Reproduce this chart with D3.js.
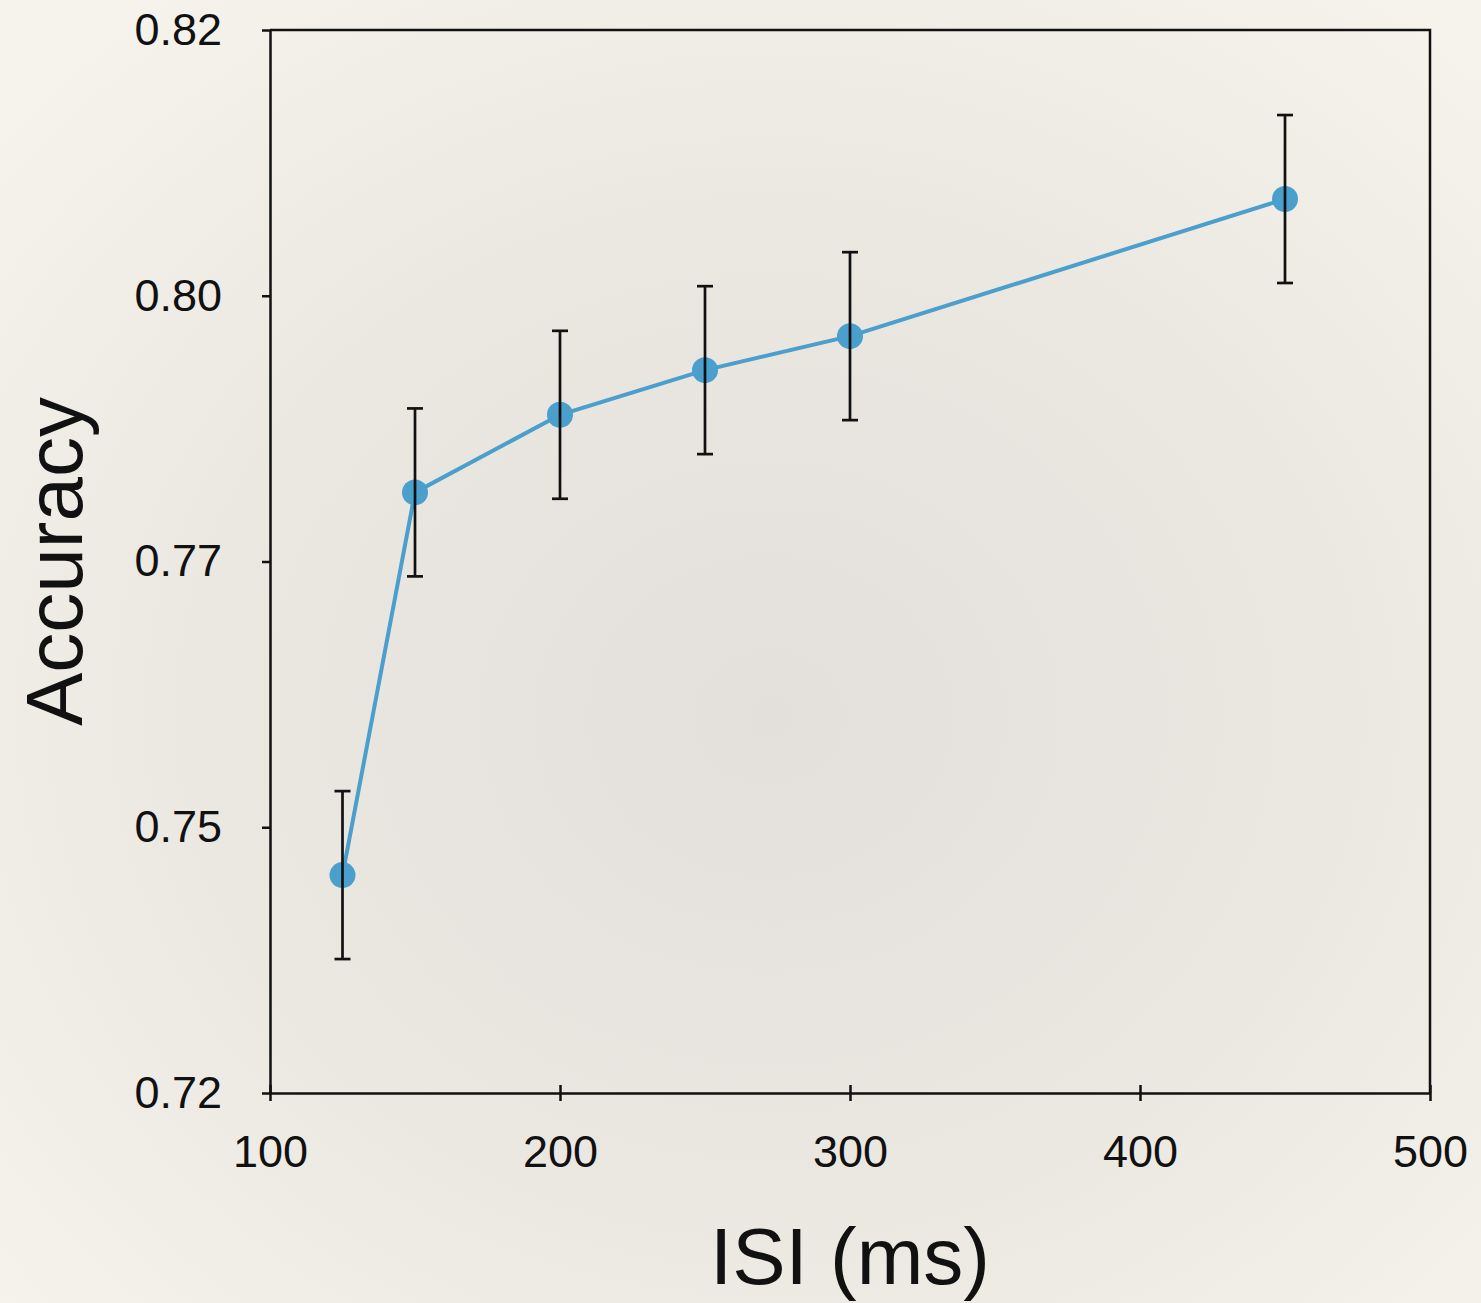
<!DOCTYPE html>
<html>
<head>
<meta charset="utf-8">
<script src="https://cdn.jsdelivr.net/npm/d3@7"></script>
<style>
  html, body { margin: 0; padding: 0; background: #efece6; }
  svg { display: block; }
  text { font-family: "Liberation Sans", Arial, Helvetica, sans-serif; fill: #111; }
</style>
</head>
<body>
<svg id="chart" width="1481" height="1303"></svg>
<script>
// Inter-stimulus interval (ms) and mean accuracy with error bars
const isi = [125, 150, 200, 250, 300, 450];
const accuracy = [0.7405, 0.7765, 0.7838, 0.7880, 0.7912, 0.8041];
const accuracyErr = [0.0079, 0.0079, 0.0079, 0.0079, 0.0079, 0.0079];

const xTicks = [100, 200, 300, 400, 500];
const yTicks = [0.72, 0.745, 0.77, 0.795, 0.82];
const yTickLabels = ["0.72", "0.75", "0.77", "0.80", "0.82"];

const W = 1481, H = 1303;
const margin = { left: 270, right: 51, top: 30, bottom: 210 };
const innerW = W - margin.left - margin.right;
const innerH = H - margin.top - margin.bottom;

const svg = d3.select("#chart");

// paper background: light edges, slightly greyer middle
const defs = svg.append("defs");
const grad = defs.append("radialGradient")
  .attr("id", "paper")
  .attr("cx", "52%").attr("cy", "55%").attr("r", "70%");
grad.append("stop").attr("offset", "0%").attr("stop-color", "#e3e0db");
grad.append("stop").attr("offset", "55%").attr("stop-color", "#ebe8e2");
grad.append("stop").attr("offset", "100%").attr("stop-color", "#f6f3ed");
svg.append("rect").attr("width", W).attr("height", H).attr("fill", "url(#paper)");

const g = svg.append("g").attr("transform", `translate(${margin.left},${margin.top})`);

const x = d3.scaleLinear().domain([100, 500]).range([0, innerW]);
const y = d3.scaleLinear().domain([0.72, 0.82]).range([innerH, 0]);

// frame (top and right edges)
g.append("path")
  .attr("d", `M0,0H${innerW}V${innerH}`)
  .attr("fill", "none").attr("stroke", "#111").attr("stroke-width", 2.5);

// x axis: ticks cross the axis line
const xAxis = g.append("g")
  .attr("transform", `translate(0,${innerH})`)
  .call(d3.axisBottom(x).tickValues(xTicks).tickSize(8).tickSizeOuter(0).tickPadding(34));
xAxis.selectAll(".tick line").attr("y1", -8).attr("y2", 8);

// y axis: outward ticks, labels given as strings
const yAxis = g.append("g")
  .call(d3.axisLeft(y).tickValues(yTicks).tickSize(8).tickSizeOuter(0).tickPadding(40)
    .tickFormat((d, i) => yTickLabels[i]));

[xAxis, yAxis].forEach(ax => {
  ax.select(".domain").attr("stroke", "#111").attr("stroke-width", 2.5);
  ax.selectAll(".tick line").attr("stroke", "#111").attr("stroke-width", 2.5);
  ax.selectAll(".tick text")
    .style("font-family", '"Liberation Sans", Arial, Helvetica, sans-serif')
    .style("font-size", "45px").attr("fill", "#111");
});

// axis titles
svg.append("text")
  .attr("x", margin.left + innerW / 2).attr("y", 1284)
  .attr("text-anchor", "middle")
  .style("font-size", "80px")
  .text("ISI (ms)");

svg.append("text")
  .attr("transform", `translate(82,${margin.top + innerH / 2}) rotate(-90)`)
  .attr("text-anchor", "middle")
  .style("font-size", "80px")
  .text("Accuracy");

const pts = isi.map((v, i) => ({ x: v, y: accuracy[i], e: accuracyErr[i] }));

// connecting line
g.append("path")
  .datum(pts)
  .attr("fill", "none")
  .attr("stroke", "#4a9fcd")
  .attr("stroke-width", 4)
  .attr("d", d3.line().x(d => x(d.x)).y(d => y(d.y)));

// markers
g.selectAll("circle.pt").data(pts).join("circle")
  .attr("class", "pt")
  .attr("cx", d => x(d.x)).attr("cy", d => y(d.y))
  .attr("r", 13).attr("fill", "#4a9fcd");

// error bars drawn on top of the markers
const eb = g.selectAll("g.err").data(pts).join("g").attr("class", "err")
  .attr("stroke", "#111").attr("stroke-width", 2.7);
eb.append("line")
  .attr("x1", d => x(d.x)).attr("x2", d => x(d.x))
  .attr("y1", d => y(d.y + d.e)).attr("y2", d => y(d.y - d.e));
eb.append("line")
  .attr("x1", d => x(d.x) - 8).attr("x2", d => x(d.x) + 8)
  .attr("y1", d => y(d.y + d.e)).attr("y2", d => y(d.y + d.e));
eb.append("line")
  .attr("x1", d => x(d.x) - 8).attr("x2", d => x(d.x) + 8)
  .attr("y1", d => y(d.y - d.e)).attr("y2", d => y(d.y - d.e));
</script>
</body>
</html>
